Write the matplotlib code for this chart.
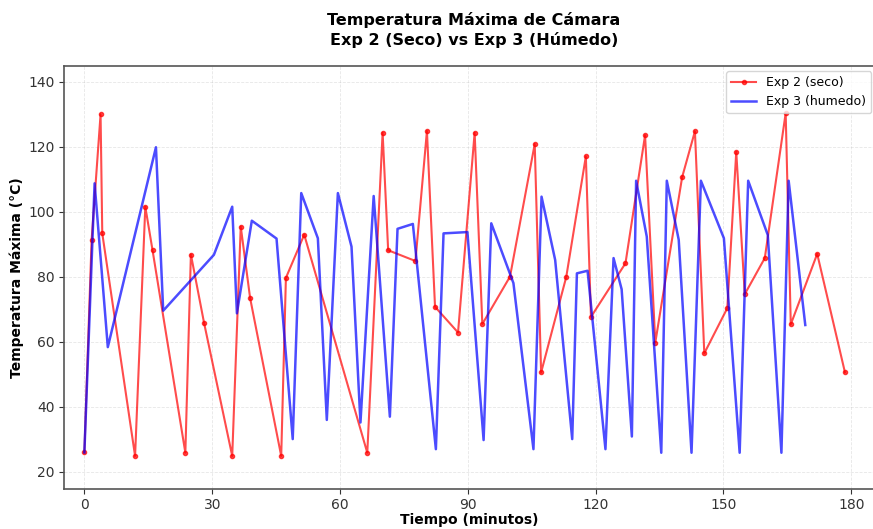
import matplotlib
matplotlib.use("Agg")
import matplotlib.pyplot as plt

# Exp 2 (dry): time in minutes and max chamber temperature
t_seco = [0, 1.7, 3.8, 4.2, 11.9, 14.3, 16.0, 23.7, 25.0, 28.1, 34.7, 36.7, 38.9,
          46.2, 47.3, 51.6, 66.4, 70.0, 71.3, 77.7, 80.4, 82.3, 87.7, 91.6, 93.4,
          99.9, 105.7, 107.2, 113.1, 117.7, 118.9, 127.0, 131.6, 134.0, 140.3,
          143.3, 145.5, 150.9, 153.0, 155.0, 159.7, 164.6, 165.8, 172.0, 178.5]
temp_seco = [26, 91.4, 130, 93.4, 24.9, 101.6, 88.2, 25.9, 86.9, 65.8, 24.9, 95.5, 73.5,
             24.9, 79.7, 93.0, 25.9, 124.4, 88.2, 84.9, 124.9, 70.8, 62.9, 124.4, 65.5,
             80.1, 120.9, 50.6, 80.0, 117.1, 67.7, 84.2, 123.6, 59.8, 110.7,
             124.8, 56.5, 70.4, 118.5, 74.7, 85.8, 130.4, 65.4, 87.1, 50.7]

# Exp 3 (humid)
t_humedo = [0, 2.4, 5.5, 16.8, 18.5, 30.4, 34.7, 35.8, 39.3, 45.1, 48.9, 50.9, 54.8,
            56.9, 59.5, 62.7, 64.8, 67.9, 71.7, 73.5, 77.1, 82.5, 84.3, 89.9, 93.7,
            95.5, 100.7, 105.4, 107.3, 110.5, 114.5, 115.6, 118.1, 122.3, 124.2,
            126.1, 128.5, 129.5, 132.0, 135.4, 136.7, 139.5, 142.5, 144.7, 150.1,
            153.8, 155.8, 160.4, 163.6, 165.3, 169.2]
temp_humedo = [26, 108.8, 58.4, 119.9, 69.6, 86.8, 101.6, 68.8, 97.3, 91.8, 30.1, 105.8, 91.9,
               36.0, 105.8, 89.3, 35.2, 104.9, 37.0, 94.8, 96.3, 27.0, 93.4, 93.8, 29.8,
               96.5, 78.1, 27.0, 104.7, 85.2, 30.1, 81.1, 81.9, 27.0, 85.8,
               76.2, 30.9, 109.6, 92.4, 25.9, 109.6, 91.4, 25.9, 109.6, 91.9,
               25.9, 109.6, 92.9, 25.9, 109.6, 65.2]

xticks = [0, 30, 60, 90, 120, 150, 180]
yticks = [20, 40, 60, 80, 100, 120, 140]

fig = plt.figure(figsize=(8.73, 5.29), dpi=100)
ax = fig.add_axes([63.5 / 873, 1 - 488.5 / 529, (876 - 63.5) / 873, (488.5 - 66) / 529])

ax.plot(t_seco, temp_seco, color="red", marker="o", markersize=3, linewidth=1.5,
        alpha=0.7, label="Exp 2 (seco)")
ax.plot(t_humedo, temp_humedo, color="blue", linewidth=1.8, alpha=0.7,
        label="Exp 3 (humedo)")

ax.set_xlim(-4.9, 185.8)
ax.set_ylim(14.9, 144.9)
ax.set_xticks(xticks)
ax.set_yticks(yticks)
ax.tick_params(labelsize=10, colors="#333333", pad=3)
for s in ax.spines.values():
    s.set_color("#555555")
    s.set_linewidth(1.2)
ax.grid(True, alpha=0.3, linestyle="--", linewidth=0.6)

ax.set_xlabel("Tiempo (minutos)", fontsize=10, fontweight="bold", labelpad=1)
ax.set_ylabel("Temperatura Máxima (°C)", fontsize=10, fontweight="bold", labelpad=3)
fig.suptitle("Temperatura Máxima de Cámara\nExp 2 (Seco) vs Exp 3 (Húmedo)",
             fontsize=11.5, fontweight="bold", y=0.978, x=0.543, linespacing=1.35)
ax.legend(loc="upper right", fontsize=9, borderaxespad=0.4)

fig.savefig("out.png", dpi=100)
